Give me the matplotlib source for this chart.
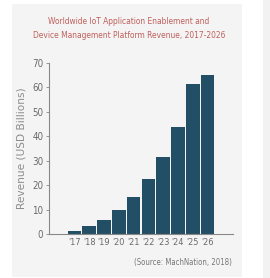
import matplotlib
matplotlib.use("Agg")
import matplotlib.pyplot as plt
from matplotlib.patches import Rectangle

years = ["'17", "'18", "'19", "'20", "'21", "'22", "'23", "'24", "'25", "'26"]
revenue = [1.4, 3.3, 5.7, 9.7, 15.3, 22.4, 31.6, 44.0, 61.3, 65.0]
yticks = [0, 10, 20, 30, 40, 50, 60, 70]

plt.rcParams['font.family'] = ['DejaVu Sans']
plt.rcParams['font.stretch'] = 'condensed'

W, H = 270, 278
fig = plt.figure(figsize=(W / 100, H / 100), dpi=100)
fig.patch.set_facecolor('white')

# panel backgrounds
fig.patches.append(Rectangle((12 / W, 1 - 277 / H), 230 / W, 273 / H,
                             transform=fig.transFigure, facecolor='#f4f4f4',
                             edgecolor='none', zorder=-10))
fig.patches.append(Rectangle((263 / W, 0), 7 / W, 1,
                             transform=fig.transFigure, facecolor='#f2f2f2',
                             edgecolor='none', zorder=-10))

ax = fig.add_axes([49 / W, 1 - 234 / H, (233 - 49) / W, (234 - 63) / H])
ax.set_zorder(5)
ax.set_facecolor('none')
x = list(range(len(years)))
ax.bar(x, revenue, width=0.93, color='#224f66', edgecolor='none')
ax.set_xlim(-1.72, 10.72)
ax.set_ylim(0, 70)
ax.set_yticks(yticks)
ax.set_xticks(x)
ax.set_xticklabels(years)
for s in ['top', 'right']:
    ax.spines[s].set_visible(False)
for s in ['left', 'bottom']:
    ax.spines[s].set_color('#888888')
    ax.spines[s].set_linewidth(0.8)
ax.tick_params(axis='y', length=2.5, width=0.6, color='#888888', labelsize=7,
               labelcolor='#6a6a6a', pad=1.5)
ax.tick_params(axis='x', length=0, labelsize=6.6, labelcolor='#6a6a6a', pad=3)
ax.set_ylabel('Revenue (USD Billions)', fontsize=7.6, color='#8c8c8c',
              fontstretch='normal', labelpad=4)
ax.yaxis.set_label_coords((27 - 49) / (233 - 49), (234 - 148) / (234 - 63))

fig.text(129 / W, 1 - 22 / H, 'Worldwide IoT Application Enablement and',
         ha='center', va='center', fontsize=6.0, color='#c0605c')
fig.text(129 / W, 1 - 35 / H, 'Device Management Platform Revenue, 2017-2026',
         ha='center', va='center', fontsize=6.0, color='#c0605c')
fig.text(232 / W, 1 - 263 / H, '(Source: MachNation, 2018)',
         ha='right', va='center', fontsize=5.6, color='#777777')

fig.savefig('out.png', dpi=100, facecolor=fig.get_facecolor())
